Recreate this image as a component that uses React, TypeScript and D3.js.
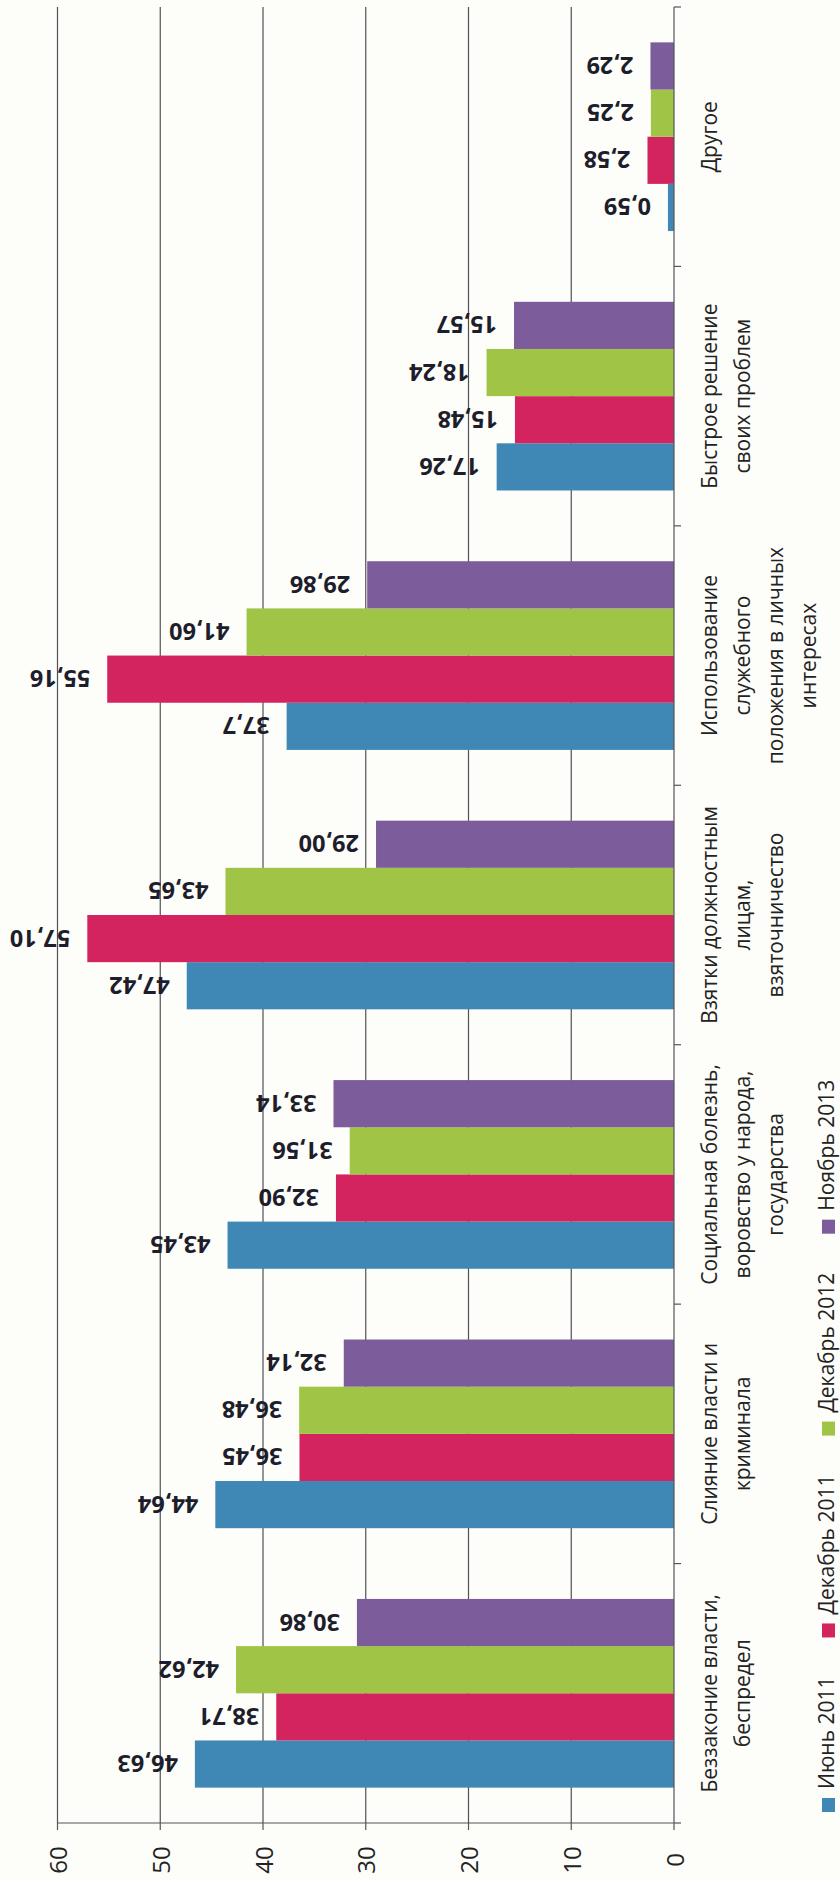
import React, { useEffect, useRef } from "react";
import * as d3 from "d3";

const categories: string[][] = [
  ["Беззаконие власти,", "беспредел"],
  ["Слияние власти и", "криминала"],
  ["Социальная болезнь,", "воровство у народа,", "государства"],
  ["Взятки должностным", "лицам,", "взяточничество"],
  ["Использование", "служебного", "положения в личных", "интересах"],
  ["Быстрое решение", "своих проблем"],
  ["Другое"],
];
const seriesNames = ["Июнь 2011", "Декабрь 2011", "Декабрь 2012", "Ноябрь 2013"];
const june2011 = ["46,63", "44,64", "43,45", "47,42", "37,7", "17,26", "0,59"];
const december2011 = ["38,71", "36,45", "32,90", "57,10", "55,16", "15,48", "2,58"];
const december2012 = ["42,62", "36,48", "31,56", "43,65", "41,60", "18,24", "2,25"];
const november2013 = ["30,86", "32,14", "33,14", "29,00", "29,86", "15,57", "2,29"];
const valueTicks = [0, 10, 20, 30, 40, 50, 60];
const seriesColors = ["#3f88b6", "#d4245f", "#9fc446", "#7c5c9b"];

const W = 840;
const H = 1881;
const FONT = "'Open Sans', 'Noto Sans', sans-serif";

export default function App() {
  const ref = useRef<SVGSVGElement>(null);
  useEffect(() => {
    const svg = d3.select(ref.current);
    svg.selectAll("*").remove();
    const allSeries = [june2011, december2011, december2012, november2013];
    const num = (s: string) => parseFloat(s.replace(",", "."));

    const xZero = 674, xMax = 57.5, yTop = 7, yBot = 1823;
    const x = d3.scaleLinear().domain([0, 60]).range([xZero, xMax]);
    const catKeys = categories.map((_, i) => String(i));
    const yBand = d3.scaleBand<string>().domain(catKeys).range([yBot, yTop]).paddingInner(0).paddingOuter(0);
    const bw = yBand.bandwidth();
    const ySub = d3.scaleBand<string>().domain(seriesNames).range([bw, 0]).paddingInner(0).paddingOuter(0.75);

    svg.append("rect").attr("width", W).attr("height", H).attr("fill", "#fdfdf9");

    // gridlines
    svg.append("g").selectAll("line").data(valueTicks.filter((t) => t > 0)).join("line")
      .attr("x1", (d) => x(d)).attr("x2", (d) => x(d))
      .attr("y1", yTop).attr("y2", yBot)
      .attr("stroke", "#505058").attr("stroke-width", 1.2);

    // bars
    const gBars = svg.append("g");
    allSeries.forEach((arr, si) => {
      gBars.selectAll(null).data(arr).join("rect")
        .attr("x", (d) => x(num(d)))
        .attr("width", (d) => xZero - x(num(d)))
        .attr("y", (_, i) => (yBand(String(i)) as number) + (ySub(seriesNames[si]) as number))
        .attr("height", ySub.bandwidth())
        .attr("fill", seriesColors[si]);
    });

    // data labels (upside down)
    const gLab = svg.append("g");
    allSeries.forEach((arr, si) => {
      gLab.selectAll(null).data(arr).join("text")
        .attr("transform", (d, i) => {
          const yc = (yBand(String(i)) as number) + (ySub(seriesNames[si]) as number) + ySub.bandwidth() / 2;
          return `translate(${x(num(d)) - 17},${yc}) rotate(180)`;
        })
        .attr("text-anchor", "start")
        .attr("dominant-baseline", "central")
        .attr("font-family", FONT)
        .attr("font-weight", 700)
        .attr("font-size", 23.5)
        .attr("fill", "#1d1d2b")
        .text((d) => d);
    });

    // value axis (bottom)
    const axisColor = "#55555c";
    svg.append("line").attr("x1", xMax).attr("x2", xZero).attr("y1", yBot).attr("y2", yBot)
      .attr("stroke", axisColor).attr("stroke-width", 1.2);
    svg.append("g").selectAll("line").data(valueTicks).join("line")
      .attr("x1", (d) => x(d)).attr("x2", (d) => x(d))
      .attr("y1", yBot).attr("y2", yBot + 7)
      .attr("stroke", axisColor).attr("stroke-width", 1.2);
    svg.append("g").selectAll("text").data(valueTicks).join("text")
      .attr("transform", (d) => `translate(${x(d)},1860) rotate(-90)`)
      .attr("text-anchor", "middle")
      .attr("dominant-baseline", "central")
      .attr("font-family", FONT)
      .attr("font-size", 24)
      .attr("fill", "#222")
      .text((d) => String(d));

    // category axis (vertical at 0)
    svg.append("line").attr("x1", xZero).attr("x2", xZero).attr("y1", yTop).attr("y2", yBot)
      .attr("stroke", axisColor).attr("stroke-width", 1.2);
    const bounds = catKeys.map((k) => yBand(k) as number).concat([yBot]);
    svg.append("g").selectAll("line").data(bounds).join("line")
      .attr("x1", xZero).attr("x2", xZero + 7)
      .attr("y1", (d) => d).attr("y2", (d) => d)
      .attr("stroke", axisColor).attr("stroke-width", 1.2);

    // category labels
    const gCat = svg.append("g");
    categories.forEach((lines, i) => {
      const yc = (yBand(String(i)) as number) + bw / 2;
      const t = gCat.append("text")
        .attr("transform", `translate(717,${yc}) rotate(-90)`)
        .attr("text-anchor", "middle")
        .attr("font-family", FONT)
        .attr("font-size", 21)
        .attr("fill", "#222");
      lines.forEach((ln, li) => {
        t.append("tspan").attr("x", 0).attr("dy", li === 0 ? 0 : 33).text(ln);
      });
    });

    // legend (rotated, reading bottom to top)
    const gLeg = svg.append("g");
    let cursor = 1812;
    seriesNames.forEach((name, si) => {
      gLeg.append("rect")
        .attr("x", 822).attr("y", cursor - 14).attr("width", 13).attr("height", 14)
        .attr("fill", seriesColors[si]);
      const txt = gLeg.append("text")
        .attr("transform", `translate(834,${cursor - 23}) rotate(-90)`)
        .attr("text-anchor", "start")
        .attr("font-family", FONT)
        .attr("font-size", 21)
        .attr("fill", "#222")
        .text(name);
      const len = (txt.node() as SVGTextElement).getComputedTextLength();
      cursor = cursor - 23 - len - 39;
    });
  }, []);

  return (
    <svg ref={ref} width={W} height={H} style={{ position: "absolute", left: 0, top: 0, display: "block" }} />
  );
}
